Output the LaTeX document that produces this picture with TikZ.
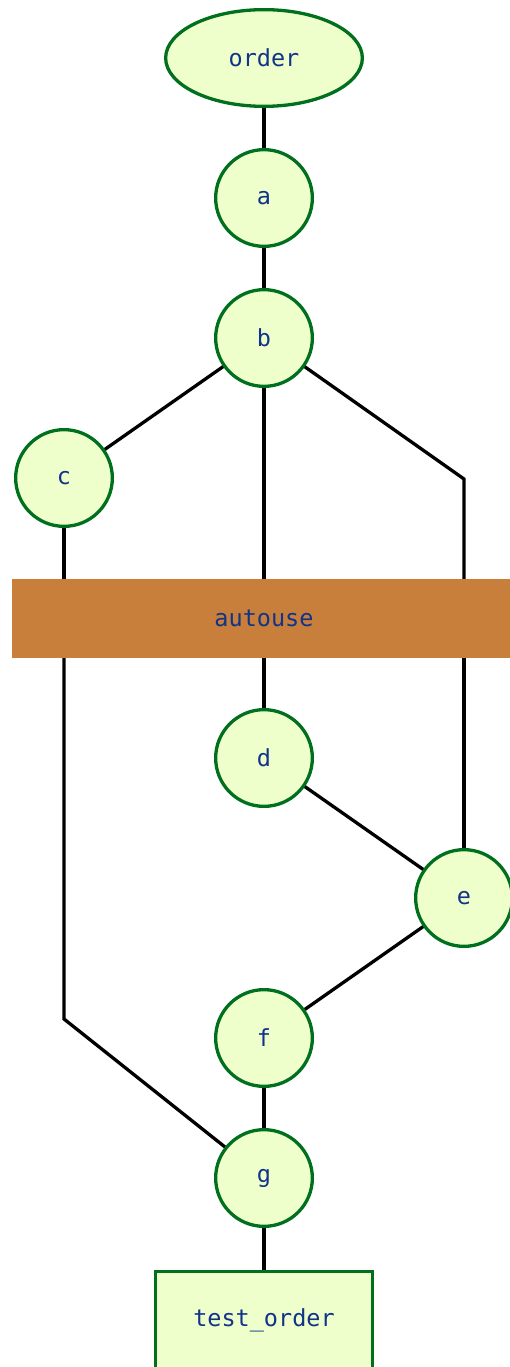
\documentclass[tikz,border=0pt]{standalone}
\usepackage{fontspec}
\setmonofont{DejaVu Sans Mono}
\usetikzlibrary{shapes.geometric,backgrounds}
\definecolor{nodefill}{RGB}{238,255,204}
\definecolor{nodeline}{RGB}{0,112,30}
\definecolor{nodetext}{RGB}{17,51,136}
\definecolor{barfill}{RGB}{200,127,59}
\tikzset{
  lbl/.style={font=\ttfamily\fontsize{23.5}{27}\selectfont, text=nodetext, inner sep=0pt, outer sep=0pt},
  fix/.style={lbl, circle, draw=nodeline, fill=nodefill, line width=3.3pt, minimum size=96.7pt},
  topfix/.style={lbl, ellipse, draw=nodeline, fill=nodefill, line width=3.3pt, minimum width=196.7pt, minimum height=96.7pt},
  testbox/.style={lbl, rectangle, draw=nodeline, fill=nodefill, line width=3.3pt, minimum width=216.7pt, minimum height=96.7pt},
  bar/.style={lbl, rectangle, fill=barfill, minimum width=504pt, minimum height=79pt},
  edge/.style={line width=3.3pt, black}
}
\begin{document}
\begin{tikzpicture}[x=1pt,y=-1pt]
\useasboundingbox (0,0) rectangle (509,1367);
\node[topfix] (order) at (264,58) {order};
\node[fix] (a) at (264,198) {a};
\node[fix] (b) at (264,338) {b};
\node[fix] (c) at (64,478) {c};
\node[bar] (autouse) at (264,618.5) {autouse};
\node[fix] (d) at (264,758) {d};
\node[fix] (e) at (464,898) {e};
\node[fix] (f) at (264,1038) {f};
\node[fix] (g) at (264,1178) {g};
\node[testbox] (test) at (264,1320) {test\_order};
\coordinate (bk) at (464,479);
\coordinate (ck) at (64,1019);
\begin{scope}[on background layer]
\draw[edge] (order) -- (a);
\draw[edge] (a) -- (b);
\draw[edge] (b) -- (c);
\draw[edge] (b) -- (autouse);
\draw[edge] (b) -- (bk) -- (bk |- autouse.center);
\draw[edge] (c) -- (c |- autouse.center);
\draw[edge] (autouse) -- (d);
\draw[edge] (e |- autouse.center) -- (e);
\draw[edge] (d) -- (e);
\draw[edge] (e) -- (f);
\draw[edge] (c |- autouse.center) -- (ck) -- (g);
\draw[edge] (f) -- (g);
\draw[edge] (g) -- (test);
\end{scope}
\end{tikzpicture}
\end{document}
